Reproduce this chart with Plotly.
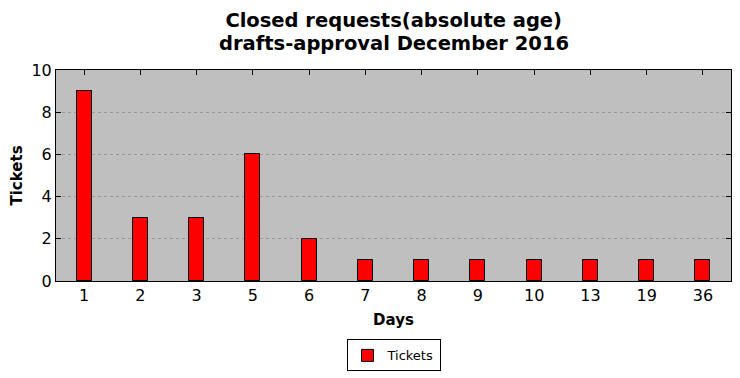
import plotly.graph_objects as go

days = ["1", "2", "3", "5", "6", "7", "8", "9", "10", "13", "19", "36"]
tickets = [9, 3, 3, 6, 2, 1, 1, 1, 1, 1, 1, 1]
title_line1 = "Closed requests(absolute age)"
title_line2 = "drafts-approval December 2016"

fig = go.Figure()
fig.add_trace(go.Bar(
    x=days, y=tickets, name="Tickets",
    marker=dict(color="#ff0000", line=dict(color="black", width=1)),
    width=0.27, showlegend=True,
))

font = "DejaVu Sans"
H = 378
fig.update_layout(
    width=740, height=H,
    margin=dict(l=56, r=9, t=70, b=97, autoexpand=False),
    paper_bgcolor="white", plot_bgcolor="#bfbfbf",
    font=dict(family=font, color="black"),
    title=dict(text="<b>" + title_line1 + "</b>",
               x=0.532, xanchor="center", yref="container", y=1 - 20 / H, yanchor="middle",
               font=dict(size=19.5, family=font)),
    showlegend=True,
    legend=dict(orientation="h", x=0.5, xanchor="center", y=-0.277, yanchor="top",
                bordercolor="black", borderwidth=1, font=dict(size=13),
                bgcolor="white"),
    xaxis=dict(type="category", range=[-0.5, 11.5], showgrid=False, automargin=False,
               ticks="inside", ticklen=5, tickcolor="black", layer="below traces",
               mirror="allticks", showline=True, linecolor="black", linewidth=1,
               tickfont=dict(size=16),
               title=dict(text="<b>Days</b>", font=dict(size=15), standoff=10)),
    yaxis=dict(range=[0, 10], dtick=2, showgrid=True, gridcolor="#999999", automargin=False,
               griddash="dot", gridwidth=1, zeroline=False,
               ticks="inside", ticklen=5, tickcolor="black",
               mirror="allticks", showline=True, linecolor="black", linewidth=1,
               tickfont=dict(size=16),
               title=dict(text="<b>Tickets</b>", font=dict(size=15), standoff=5)),
    bargap=0,
)
fig.add_annotation(text="<b>" + title_line2 + "</b>", xref="paper", yref="paper",
                   x=(394 - 56) / 675, y=1 + (70 - 43) / 211, xanchor="center", yanchor="middle",
                   showarrow=False, font=dict(size=19.5, family=font))
fig.write_html("out.html", config={"displayModeBar": False},
               post_script="document.body.style.margin='0';document.body.style.overflow='hidden';")
